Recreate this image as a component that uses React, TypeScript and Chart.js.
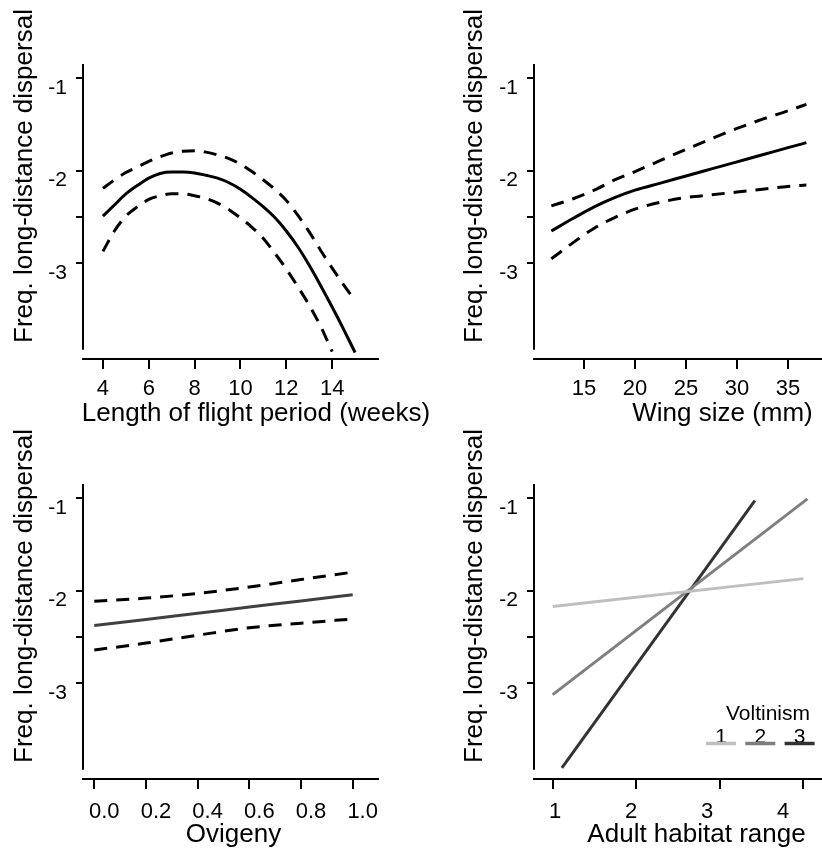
import React, { useEffect, useRef } from "react";
import { Chart, registerables } from "chart.js";

Chart.register(...registerables);

const W = 822;
const H = 852;
const FONT = "'Liberation Sans', Arial, Helvetica, sans-serif";

// ---- shared y axis ----
const Y_MIN = -4.03;
const Y_MAX = -0.85;
const Y_LINE_END = -3.93;
const yTickValues = [-3, -2.5, -2, -1];
const yTitle = "Freq. long-distance dispersal";

// ---- Panel A: length of flight period ----
const flightWeeks = [4, 4.5, 5, 5.5, 6, 6.5, 7, 7.5, 8, 8.5, 9, 9.5, 10, 10.5, 11, 11.5, 12, 12.5, 13, 13.5, 14, 14.5, 15];
const flightFit = [-2.49, -2.37, -2.25, -2.16, -2.08, -2.03, -2.015, -2.015, -2.025, -2.05, -2.08, -2.13, -2.2, -2.29, -2.39, -2.505, -2.65, -2.82, -3.02, -3.24, -3.47, -3.71, -3.96];
const flightUpper = [-2.19, -2.1, -2.02, -1.96, -1.9, -1.85, -1.81, -1.79, -1.785, -1.8, -1.83, -1.87, -1.93, -2.01, -2.1, -2.2, -2.32, -2.48, -2.66, -2.86, -3.05, -3.23, -3.4];
const flightLowerWeeks = [4, 4.5, 5, 5.5, 6, 6.5, 7, 7.5, 8, 8.5, 9, 9.5, 10, 10.5, 11, 11.5, 12, 12.5, 13, 13.5, 14];
const flightLower = [-2.87, -2.65, -2.49, -2.39, -2.31, -2.27, -2.25, -2.25, -2.27, -2.3, -2.35, -2.42, -2.51, -2.61, -2.73, -2.89, -3.06, -3.25, -3.45, -3.68, -3.95];
const flightTicks = [4, 6, 8, 10, 12, 14];

// ---- Panel B: wing size ----
const wingSize = [11.8, 14, 16, 18, 20, 22.5, 25, 27.5, 30, 32.5, 35, 36.8];
const wingFit = [-2.65, -2.51, -2.39, -2.29, -2.21, -2.134, -2.057, -1.981, -1.905, -1.829, -1.752, -1.698];
const wingUpper = [-2.38, -2.3, -2.21, -2.1, -2.01, -1.89, -1.77, -1.655, -1.545, -1.445, -1.355, -1.285];
const wingLower = [-2.95, -2.77, -2.62, -2.505, -2.415, -2.34, -2.29, -2.26, -2.23, -2.2, -2.17, -2.155];
const wingTicks = [15, 20, 25, 30, 35];

// ---- Panel C: ovigeny ----
const ovigeny = [0, 0.2, 0.4, 0.6, 0.8, 1.0];
const ovigenyFit = [-2.375, -2.31, -2.243, -2.177, -2.11, -2.045];
const ovigenyUpper = [-2.115, -2.08, -2.03, -1.96, -1.88, -1.8];
const ovigenyLower = [-2.64, -2.565, -2.48, -2.4, -2.35, -2.305];
const ovigenyTicks = [0, 0.2, 0.4, 0.6, 0.8, 1.0];

// ---- Panel D: adult habitat range by voltinism ----
const voltinismLabels = ["1", "2", "3"];
const voltinismColors = ["#bfbfbf", "#7f7f7f", "#333333"];
const habitat1 = [1, 4.0];
const habitatFit1 = [-2.17, -1.87];
const habitat2 = [1, 4.05];
const habitatFit2 = [-3.12, -1.01];
const habitat3 = [1.11, 3.42];
const habitatFit3 = [-3.91, -1.03];
const habitatTicks = [1, 2, 3, 4];

const pts = (xs: number[], ys: number[]) => xs.map((x, i) => ({ x, y: ys[i] }));

const DASH = [13, 9];

function curve(xs: number[], ys: number[], color: string, dashed: boolean, smooth = true, label = "") {
  return {
    label,
    data: pts(xs, ys),
    borderColor: color,
    backgroundColor: color,
    borderWidth: 3,
    borderDash: dashed ? DASH : [],
    borderCapStyle: "butt",
    pointRadius: 0,
    fill: false,
    cubicInterpolationMode: smooth ? "monotone" : "default",
    tension: 0,
    xAxisID: "x",
    yAxisID: "y",
  };
}

const decorPlugin = {
  id: "decor",
  afterDraw(chart: any, _args: any, opts: any) {
    const { ctx, chartArea, scales } = chart;
    const y = scales.y;
    ctx.save();
    ctx.strokeStyle = "#000";
    ctx.lineWidth = 2;
    ctx.beginPath();
    ctx.moveTo(chartArea.left, chartArea.top);
    ctx.lineTo(chartArea.left, y.getPixelForValue(opts.yLineEnd));
    ctx.stroke();

    ctx.fillStyle = "#000";
    ctx.font = `26px ${FONT}`;
    ctx.textAlign = "center";
    ctx.textBaseline = "alphabetic";
    ctx.fillText(opts.xTitle, opts.xTitleX, opts.xTitleY);

    ctx.save();
    ctx.translate(opts.yTitleX, opts.yTitleY);
    ctx.rotate(-Math.PI / 2);
    ctx.fillText(opts.yTitle, 0, 0);
    ctx.restore();

    if (opts.legend) {
      ctx.font = `21px ${FONT}`;
      ctx.textAlign = "center";
      ctx.fillText(opts.legendTitle, opts.legendTitleX, opts.legendTitleY);
      const ds = chart.data.datasets;
      ds.forEach((d: any, i: number) => {
        const x0 = opts.legendX0 + i * opts.legendStep;
        ctx.font = `21px ${FONT}`;
        ctx.fillStyle = "#000";
        ctx.fillText(d.label, x0 + opts.legendLen / 2, opts.legendTextY);
        ctx.strokeStyle = d.borderColor;
        ctx.lineWidth = 3.5;
        ctx.beginPath();
        ctx.moveTo(x0, opts.legendLineY);
        ctx.lineTo(x0 + opts.legendLen, opts.legendLineY);
        ctx.stroke();
      });
    }
    ctx.restore();
  },
};

interface PanelSpec {
  left: number;
  right: number;
  top: number;
  bottom: number;
  xMin: number;
  xMax: number;
  xTicks: number[];
  xFormat: (v: number) => string;
  xLabelOffset: number;
  xPad: number;
  alt?: { min: number; max: number };
  datasets: any[];
  decor: any;
}

function buildConfig(p: PanelSpec): any {
  const Y_W = 60;
  const X_H = p.alt ? 10 : 60;
  const ALT_H = 50;
  const tickFont = { family: FONT, size: 22 };
  const scales: any = {
    x: {
      type: "linear",
      position: "bottom",
      weight: 0,
      min: p.xMin,
      max: p.xMax,
      afterBuildTicks: (s: any) => {
        s.ticks = p.xTicks.map((v) => ({ value: v }));
      },
      afterFit: (s: any) => {
        s.height = X_H;
      },
      grid: { display: true, drawOnChartArea: false, drawTicks: true, tickLength: 10, color: "#000", lineWidth: 2 },
      border: { display: true, color: "#000", width: 2 },
      ticks: {
        display: !p.alt,
        color: "#000",
        font: tickFont,
        padding: p.xPad,
        labelOffset: p.xLabelOffset,
        maxRotation: 0,
        autoSkip: false,
        callback: (v: any) => p.xFormat(Number(v)),
      },
    },
    y: {
      type: "linear",
      position: "left",
      min: Y_MIN,
      max: Y_MAX,
      afterBuildTicks: (s: any) => {
        s.ticks = yTickValues.map((v) => ({ value: v }));
      },
      afterFit: (s: any) => {
        s.width = Y_W;
      },
      grid: { display: true, drawOnChartArea: false, drawTicks: true, tickLength: 7, color: "#000", lineWidth: 2 },
      border: { display: false },
      ticks: {
        color: "#000",
        font: { family: FONT, size: 21 },
        padding: 9,
        labelOffset: 10,
        autoSkip: false,
        callback: (v: any) => (Number.isInteger(Number(v)) ? String(v) : ""),
      },
    },
  };
  if (p.alt) {
    scales.xl = {
      type: "linear",
      position: "bottom",
      weight: 1,
      min: p.alt.min,
      max: p.alt.max,
      afterBuildTicks: (s: any) => {
        s.ticks = p.xTicks.map((v) => ({ value: v }));
      },
      afterFit: (s: any) => {
        s.height = ALT_H;
      },
      grid: { display: false, drawTicks: false },
      border: { display: false },
      ticks: {
        color: "#000",
        font: tickFont,
        padding: p.xPad,
        maxRotation: 0,
        autoSkip: false,
        callback: (v: any) => p.xFormat(Number(v)),
      },
    };
  }
  const totalXH = p.alt ? X_H + ALT_H : X_H;
  return {
    type: "line",
    data: { datasets: p.datasets },
    options: {
      responsive: false,
      animation: false,
      devicePixelRatio: 1,
      events: [],
      layout: {
        autoPadding: false,
        padding: {
          left: p.left - Y_W,
          right: W - p.right,
          top: p.top,
          bottom: H - p.bottom - totalXH,
        },
      },
      scales,
      plugins: {
        legend: { display: false },
        tooltip: { enabled: false },
        title: { display: false },
        decor: p.decor,
      },
    },
    plugins: [decorPlugin],
  };
}

const TOP = { top: 64, bottom: 359 };
const BOT = { top: 484, bottom: 779 };

const panels: PanelSpec[] = [
  {
    left: 83,
    right: 378,
    ...TOP,
    xMin: 3.13,
    xMax: 16.0,
    xTicks: flightTicks,
    xFormat: (v) => String(v),
    xLabelOffset: 0,
    xPad: 7,
    datasets: [
      curve(flightWeeks, flightUpper, "#000", true),
      curve(flightLowerWeeks, flightLower, "#000", true),
      curve(flightWeeks, flightFit, "#000", false),
    ],
    decor: {
      yLineEnd: Y_LINE_END,
      xTitle: "Length of flight period (weeks)",
      xTitleX: 256,
      xTitleY: 421,
      yTitle,
      yTitleX: 32,
      yTitleY: 176,
    },
  },
  {
    left: 534,
    right: 822,
    ...TOP,
    xMin: 10.1,
    xMax: 38.33,
    xTicks: wingTicks,
    xFormat: (v) => String(v),
    xLabelOffset: 0,
    xPad: 7,
    datasets: [
      curve(wingSize, wingUpper, "#000", true),
      curve(wingSize, wingLower, "#000", true),
      curve(wingSize, wingFit, "#000", false),
    ],
    decor: {
      yLineEnd: Y_LINE_END,
      xTitle: "Wing size (mm)",
      xTitleX: 722.5,
      xTitleY: 421,
      yTitle,
      yTitleX: 482,
      yTitleY: 176,
    },
  },
  {
    left: 83,
    right: 378,
    ...BOT,
    xMin: -0.0437,
    xMax: 1.098,
    xTicks: ovigenyTicks,
    xFormat: (v) => v.toFixed(1),
    xLabelOffset: 10,
    xPad: 10,
    datasets: [
      curve(ovigeny, ovigenyUpper, "#000", true),
      curve(ovigeny, ovigenyLower, "#000", true),
      curve(ovigeny, ovigenyFit, "#404040", false),
    ],
    decor: {
      yLineEnd: Y_LINE_END,
      xTitle: "Ovigeny",
      xTitleX: 233.5,
      xTitleY: 842,
      yTitle,
      yTitleX: 32,
      yTitleY: 596,
    },
  },
  {
    left: 534,
    right: 822,
    ...BOT,
    xMin: 0.776,
    xMax: 4.224,
    xTicks: habitatTicks,
    xFormat: (v) => String(v),
    xLabelOffset: 0,
    xPad: 10,
    alt: { min: 0.7237, max: 4.513 },
    datasets: [
      curve(habitat1, habitatFit1, voltinismColors[0], false, false, voltinismLabels[0]),
      curve(habitat2, habitatFit2, voltinismColors[1], false, false, voltinismLabels[1]),
      curve(habitat3, habitatFit3, voltinismColors[2], false, false, voltinismLabels[2]),
    ],
    decor: {
      yLineEnd: Y_LINE_END,
      xTitle: "Adult habitat range",
      xTitleX: 696.5,
      xTitleY: 842,
      yTitle,
      yTitleX: 482,
      yTitleY: 596,
      legend: true,
      legendTitle: "Voltinism",
      legendTitleX: 768,
      legendTitleY: 720,
      legendX0: 706,
      legendStep: 39.3,
      legendLen: 30,
      legendTextY: 743,
      legendLineY: 743.5,
    },
  },
];

function PanelChart({ spec }: { spec: PanelSpec }) {
  const ref = useRef<HTMLCanvasElement>(null);
  useEffect(() => {
    if (!ref.current) return;
    const chart = new Chart(ref.current, buildConfig(spec));
    return () => chart.destroy();
  }, [spec]);
  return (
    <canvas
      ref={ref}
      width={W}
      height={H}
      style={{ position: "absolute", left: 0, top: 0, width: W, height: H }}
    />
  );
}

export default function App() {
  return (
    <div style={{ position: "absolute", left: 0, top: 0, width: W, height: H, background: "#fff" }}>
      {panels.map((p, i) => (
        <PanelChart key={i} spec={p} />
      ))}
    </div>
  );
}
